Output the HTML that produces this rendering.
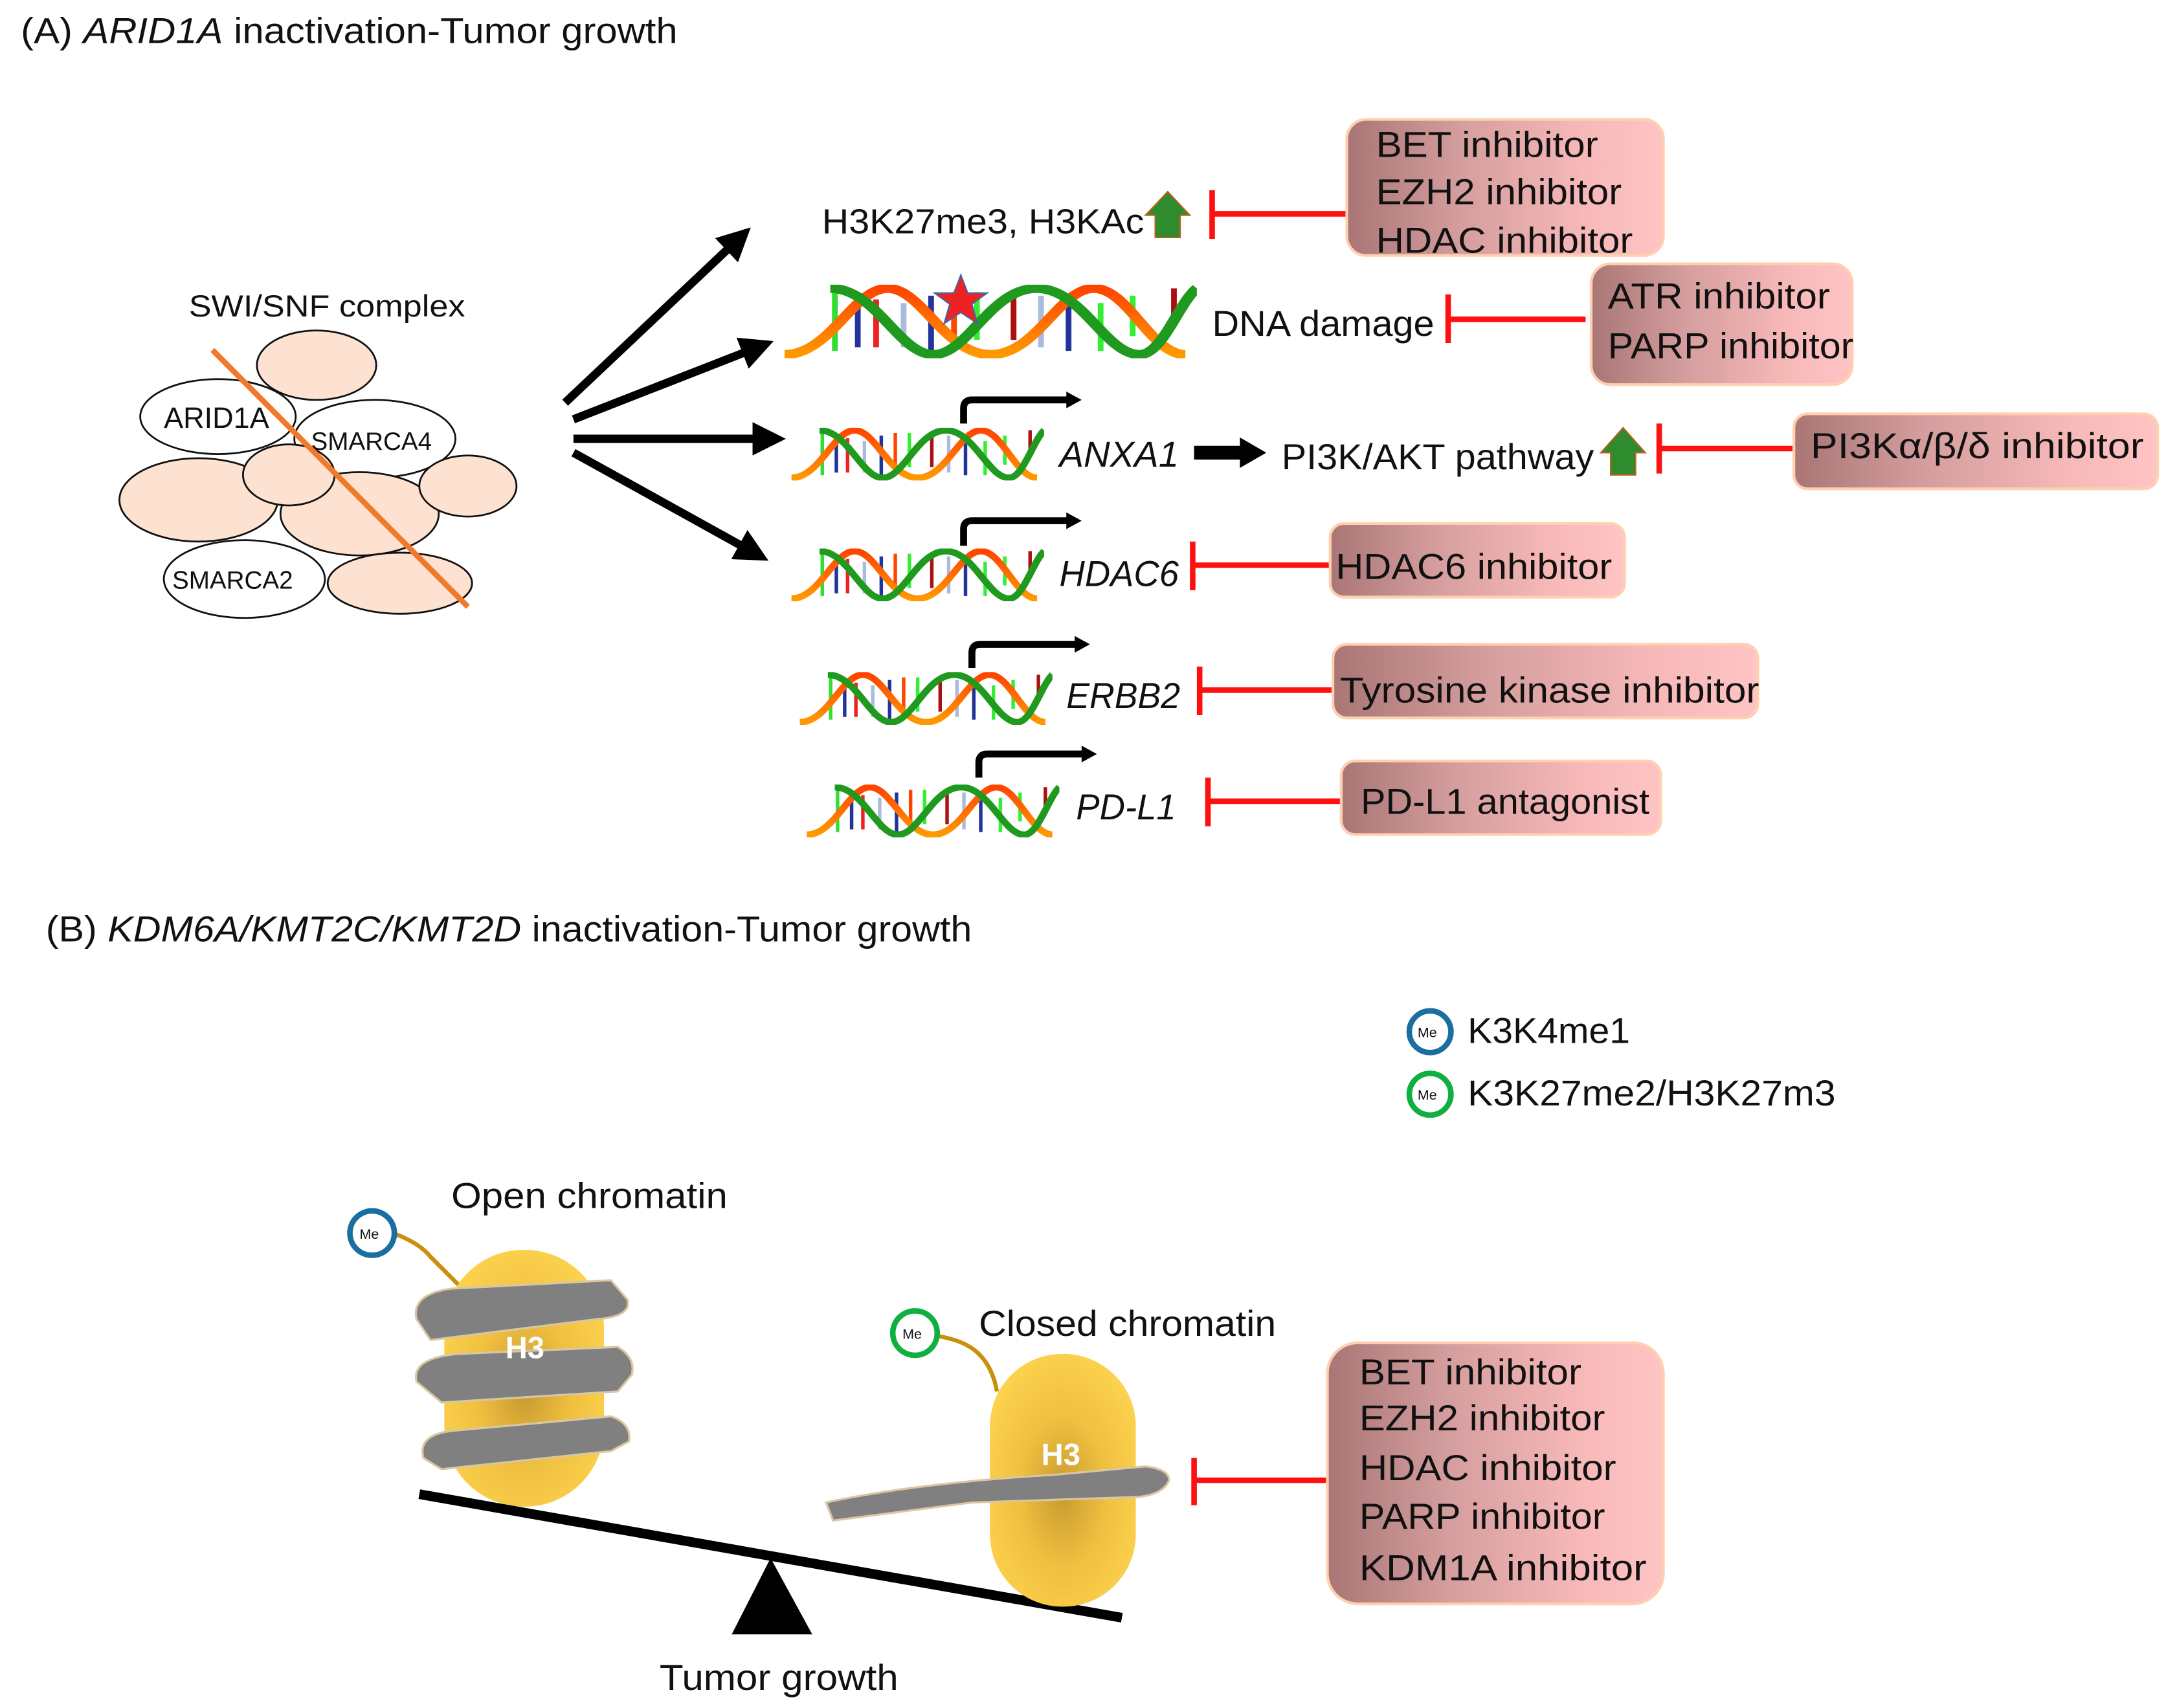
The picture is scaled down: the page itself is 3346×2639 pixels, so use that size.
<!DOCTYPE html>
<html><head><meta charset="utf-8"><style>
html,body{margin:0;padding:0;background:#fff}
svg{display:block}
text{font-family:"Liberation Sans",sans-serif;fill:#111}
</style></head><body>
<svg width="3346" height="2639" viewBox="0 0 1560 1230" preserveAspectRatio="none" xmlns="http://www.w3.org/2000/svg">
<defs>
<linearGradient id="box" x1="0" y1="0" x2="1" y2="0">
<stop offset="0" stop-color="#a97575"/><stop offset="0.35" stop-color="#d49d9d"/><stop offset="0.75" stop-color="#f7b8b8"/><stop offset="1" stop-color="#ffc4c4"/></linearGradient>
<radialGradient id="h3" cx="0.5" cy="0.55" r="0.6">
<stop offset="0" stop-color="#c89a30"/><stop offset="0.5" stop-color="#f0c040"/><stop offset="1" stop-color="#fdd34f"/></radialGradient>
<linearGradient id="ora" x1="0" y1="1" x2="0" y2="0"><stop offset="0" stop-color="#ff9900"/><stop offset="1" stop-color="#ff4400"/></linearGradient>
<symbol id="dna" viewBox="0 0 180 40" preserveAspectRatio="none">
<g stroke-width="2.5">
<line x1="22" y1="4" x2="22" y2="36" stroke="#33dd33"/>
<line x1="32" y1="6" x2="32" y2="34" stroke="#223399"/>
<line x1="40" y1="8" x2="40" y2="34" stroke="#ee2222"/>
<line x1="52" y1="10" x2="52" y2="34" stroke="#aabbdd"/>
<line x1="64" y1="6" x2="64" y2="36" stroke="#223399"/>
<line x1="74" y1="4" x2="74" y2="34" stroke="#ff4400"/>
<line x1="84" y1="4" x2="84" y2="30" stroke="#33ee33"/>
<line x1="100" y1="4" x2="100" y2="30" stroke="#aa1111"/>
<line x1="112" y1="6" x2="112" y2="34" stroke="#aabbdd"/>
<line x1="124" y1="8" x2="124" y2="36" stroke="#223399"/>
<line x1="138" y1="10" x2="138" y2="36" stroke="#33ee33"/>
<line x1="152" y1="6" x2="152" y2="28" stroke="#33ee33"/>
<line x1="170" y1="2" x2="170" y2="22" stroke="#aa1111"/>
</g>
<path d="M0,38 C20,38 30,2 45,2 C60,2 70,38 90,38 C110,38 120,2 135,2 C150,2 160,38 175,38" fill="none" stroke="url(#ora)" stroke-width="5"/>
<path d="M20,2 C40,2 50,38 65,38 C80,38 90,2 110,2 C130,2 140,38 155,38 C165,38 172,10 180,2" fill="none" stroke="#1f9a1f" stroke-width="5"/>
</symbol>
<marker id="ah" viewBox="0 0 10 10" refX="5" refY="5" markerWidth="4" markerHeight="4" orient="auto"><path d="M0,0 L10,5 L0,10 z" fill="#000"/></marker>
</defs>

<text x="15" y="31" font-size="26" textLength="473" lengthAdjust="spacingAndGlyphs">(A)  <tspan font-style="italic">ARID1A</tspan> inactivation-Tumor growth</text>

<text x="136" y="228" font-size="22" textLength="199" lengthAdjust="spacingAndGlyphs">SWI/SNF  complex</text>
<g stroke="#111" stroke-width="1.3">
<ellipse cx="228" cy="263" rx="43" ry="25" fill="#fde2d2"/>
<ellipse cx="157" cy="300" rx="56" ry="27" fill="#fff"/>
<ellipse cx="270" cy="316" rx="58" ry="28" fill="#fff"/>
<ellipse cx="143" cy="360" rx="57" ry="30" fill="#fde2d2"/>
<ellipse cx="259" cy="370" rx="57" ry="30" fill="#fde2d2"/>
<ellipse cx="337" cy="350" rx="35" ry="22" fill="#fde2d2"/>
<ellipse cx="208" cy="342" rx="33" ry="22" fill="#fde2d2"/>
<ellipse cx="176" cy="417" rx="58" ry="28" fill="#fff"/>
<ellipse cx="288" cy="420" rx="52" ry="22" fill="#fde2d2"/>
</g>
<text x="118" y="308" font-size="21">ARID1A</text>
<text x="224" y="324" font-size="18">SMARCA4</text>
<text x="124" y="424" font-size="18">SMARCA2</text>
<line x1="153" y1="252" x2="337" y2="437" stroke="#f07a2a" stroke-width="4"/>

<g stroke="#000" stroke-width="6" marker-end="url(#ah)">
<line x1="407" y1="290" x2="532" y2="172"/>
<line x1="413" y1="302" x2="546" y2="250"/>
<line x1="413" y1="316" x2="554" y2="316"/>
<line x1="413" y1="326" x2="543" y2="398"/>
</g>

<!-- row 1 -->
<text x="592" y="168" font-size="25" textLength="232" lengthAdjust="spacingAndGlyphs">H3K27me3, H3KAc</text>
<path d="M832,171 L832,155 L825,155 L841,138 L857,155 L850,155 L850,171 Z" fill="#2e8b2e" stroke="#c06020" stroke-width="1"/>
<g stroke="#ff1010" stroke-width="4"><line x1="873" y1="137" x2="873" y2="172"/><line x1="873" y1="154" x2="970" y2="154"/></g>
<rect x="970" y="86" width="228" height="98" rx="14" fill="url(#box)" stroke="#ffd0b0" stroke-width="2"/>
<text x="991" y="113" font-size="26" textLength="160" lengthAdjust="spacingAndGlyphs">BET inhibitor</text>
<text x="991" y="147" font-size="26" textLength="177" lengthAdjust="spacingAndGlyphs">EZH2 inhibitor</text>
<text x="991" y="182" font-size="26" textLength="185" lengthAdjust="spacingAndGlyphs">HDAC inhibitor</text>

<!-- row 2 -->
<use href="#dna" x="565" y="205" width="297" height="53"/>
<polygon points="692,198 697,211 711,211 700,219 704,233 692,225 680,233 684,219 673,211 687,211" fill="#ee2222" stroke="#4466aa" stroke-width="1"/>
<text x="873" y="242" font-size="26" textLength="160" lengthAdjust="spacingAndGlyphs">DNA damage</text>
<g stroke="#ff1010" stroke-width="4"><line x1="1043" y1="212" x2="1043" y2="247"/><line x1="1043" y1="230" x2="1142" y2="230"/></g>
<rect x="1146" y="190" width="188" height="87" rx="14" fill="url(#box)" stroke="#ffd0b0" stroke-width="2"/>
<text x="1158" y="222" font-size="26" textLength="160" lengthAdjust="spacingAndGlyphs">ATR inhibitor</text>
<text x="1158" y="258" font-size="26" textLength="177" lengthAdjust="spacingAndGlyphs">PARP inhibitor</text>

<!-- TSS arrows -->
<g fill="none" stroke="#000" stroke-width="5">
<path d="M694,305 L694,294 Q694,288 700,288 L770,288"/>
<path d="M694,393 L694,381 Q694,375 700,375 L770,375"/>
<path d="M700,481 L700,470 Q700,464 706,464 L776,464"/>
<path d="M705,560 L705,549 Q705,543 711,543 L781,543"/>
</g>
<g fill="#000">
<polygon points="768,282 779,288 768,294"/>
<polygon points="768,369 779,375 768,381"/>
<polygon points="774,458 785,464 774,470"/>
<polygon points="779,537 790,543 779,549"/>
</g>

<!-- row 3 -->
<use href="#dna" x="570" y="308" width="182" height="38"/>
<text x="763" y="336" font-size="26" font-style="italic" textLength="86" lengthAdjust="spacingAndGlyphs">ANXA1</text>
<path d="M860,321 L893,321 L893,315 L912,326 L893,337 L893,331 L860,331 Z" fill="#000"/>
<text x="923" y="338" font-size="26" textLength="225" lengthAdjust="spacingAndGlyphs">PI3K/AKT pathway</text>
<path d="M1160,342 L1160,326 L1153,326 L1169,308 L1185,326 L1178,326 L1178,342 Z" fill="#2e8b2e" stroke="#c06020" stroke-width="1"/>
<g stroke="#ff1010" stroke-width="4"><line x1="1195" y1="305" x2="1195" y2="341"/><line x1="1195" y1="323" x2="1292" y2="323"/></g>
<rect x="1292" y="298" width="262" height="54" rx="10" fill="url(#box)" stroke="#ffd0b0" stroke-width="2"/>
<text x="1304" y="330" font-size="26" textLength="240" lengthAdjust="spacingAndGlyphs">PI3Kα/β/δ inhibitor</text>

<!-- row 4 -->
<use href="#dna" x="570" y="395" width="182" height="38"/>
<text x="763" y="422" font-size="26" font-style="italic" textLength="86" lengthAdjust="spacingAndGlyphs">HDAC6</text>
<g stroke="#ff1010" stroke-width="4"><line x1="859" y1="390" x2="859" y2="425"/><line x1="859" y1="407" x2="958" y2="407"/></g>
<rect x="958" y="377" width="212" height="53" rx="10" fill="url(#box)" stroke="#ffd0b0" stroke-width="2"/>
<text x="962" y="417" font-size="26" textLength="199" lengthAdjust="spacingAndGlyphs">HDAC6 inhibitor</text>

<!-- row 5 -->
<use href="#dna" x="576" y="484" width="182" height="38"/>
<text x="768" y="510" font-size="26" font-style="italic" textLength="82" lengthAdjust="spacingAndGlyphs">ERBB2</text>
<g stroke="#ff1010" stroke-width="4"><line x1="864" y1="480" x2="864" y2="515"/><line x1="864" y1="497" x2="960" y2="497"/></g>
<rect x="960" y="464" width="306" height="53" rx="10" fill="url(#box)" stroke="#ffd0b0" stroke-width="2"/>
<text x="965" y="506" font-size="26" textLength="302" lengthAdjust="spacingAndGlyphs">Tyrosine kinase inhibitor</text>

<!-- row 6 -->
<use href="#dna" x="581" y="565" width="182" height="38"/>
<text x="775" y="590" font-size="26" font-style="italic" textLength="72" lengthAdjust="spacingAndGlyphs">PD-L1</text>
<g stroke="#ff1010" stroke-width="4"><line x1="870" y1="560" x2="870" y2="595"/><line x1="870" y1="577" x2="966" y2="577"/></g>
<rect x="966" y="548" width="230" height="53" rx="10" fill="url(#box)" stroke="#ffd0b0" stroke-width="2"/>
<text x="980" y="586" font-size="26" textLength="208" lengthAdjust="spacingAndGlyphs">PD-L1 antagonist</text>

<!-- Part B -->
<text x="33" y="678" font-size="26" textLength="667" lengthAdjust="spacingAndGlyphs">(B) <tspan font-style="italic">KDM6A/KMT2C/KMT2D</tspan> inactivation-Tumor growth</text>

<circle cx="1030" cy="743" r="15" fill="#fff" stroke="#1a6fa0" stroke-width="4"/>
<text x="1021" y="747" font-size="10">Me</text>
<text x="1057" y="751" font-size="26" textLength="117" lengthAdjust="spacingAndGlyphs">K3K4me1</text>
<circle cx="1030" cy="788" r="15" fill="#fff" stroke="#10b040" stroke-width="4"/>
<text x="1021" y="792" font-size="10">Me</text>
<text x="1057" y="796" font-size="26" textLength="265" lengthAdjust="spacingAndGlyphs">K3K27me2/H3K27m3</text>

<!-- open chromatin -->
<text x="325" y="870" font-size="26" textLength="199" lengthAdjust="spacingAndGlyphs">Open chromatin</text>
<rect x="320" y="900" width="115" height="185" rx="57" fill="url(#h3)"/>
<path d="M283,888 Q302,895 310,905 Q320,915 330,925" fill="none" stroke="#c8900c" stroke-width="3"/>
<circle cx="268" cy="888" r="16" fill="#fff" stroke="#1a6fa0" stroke-width="4"/>
<text x="259" y="892" font-size="10">Me</text>
<g fill="#808080" stroke="#d8c7a0" stroke-width="1.5">
<path d="M300,950 Q296,932 325,928 L440,922 L452,936 Q455,948 430,950 L310,965 Z"/>
<path d="M300,995 Q296,978 330,975 L445,970 Q458,978 455,990 L445,1002 L318,1010 Z"/>
<path d="M305,1050 Q300,1032 330,1030 L440,1020 Q455,1025 453,1038 L440,1045 L318,1058 Z"/>
</g>
<text x="364" y="978" font-size="22" font-weight="bold" style="fill:#fff">H3</text>

<!-- seesaw -->
<line x1="302" y1="1076" x2="808" y2="1165" stroke="#000" stroke-width="7"/>
<polygon points="555,1122 527,1177 585,1177" fill="#000"/>
<text x="475" y="1217" font-size="26" textLength="172" lengthAdjust="spacingAndGlyphs">Tumor growth</text>

<!-- closed chromatin -->
<text x="705" y="962" font-size="26" textLength="214" lengthAdjust="spacingAndGlyphs">Closed chromatin</text>
<rect x="713" y="975" width="105" height="182" rx="52" fill="url(#h3)"/>
<path d="M674,962 Q695,965 705,975 Q715,985 718,1002" fill="none" stroke="#c8900c" stroke-width="3"/>
<circle cx="659" cy="960" r="16" fill="#fff" stroke="#10b040" stroke-width="4"/>
<text x="650" y="964" font-size="10">Me</text>
<path d="M595,1082 Q660,1068 760,1062 L825,1056 Q842,1058 842,1066 Q838,1076 820,1078 L700,1082 L600,1095 Z" fill="#808080" stroke="#d8c7a0" stroke-width="1.5"/>
<text x="750" y="1055" font-size="22" font-weight="bold" style="fill:#fff">H3</text>
<g stroke="#ff1010" stroke-width="4"><line x1="860" y1="1050" x2="860" y2="1084"/><line x1="860" y1="1066" x2="956" y2="1066"/></g>
<rect x="956" y="967" width="242" height="188" rx="22" fill="url(#box)" stroke="#ffd0b0" stroke-width="2"/>
<text x="979" y="997" font-size="26" textLength="160" lengthAdjust="spacingAndGlyphs">BET inhibitor</text>
<text x="979" y="1030" font-size="26" textLength="177" lengthAdjust="spacingAndGlyphs">EZH2 inhibitor</text>
<text x="979" y="1066" font-size="26" textLength="185" lengthAdjust="spacingAndGlyphs">HDAC inhibitor</text>
<text x="979" y="1101" font-size="26" textLength="177" lengthAdjust="spacingAndGlyphs">PARP inhibitor</text>
<text x="979" y="1138" font-size="26" textLength="207" lengthAdjust="spacingAndGlyphs">KDM1A inhibitor</text>
</svg>
</body></html>
